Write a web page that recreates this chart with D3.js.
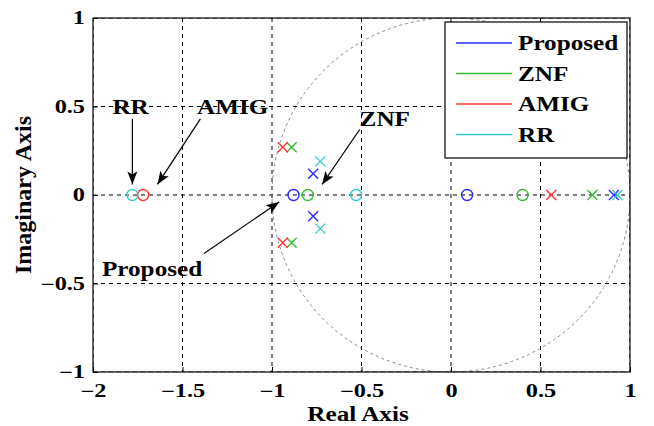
<!DOCTYPE html>
<html>
<head>
<meta charset="utf-8">
<script src="https://cdn.jsdelivr.net/npm/d3@7"></script>
<style>
  body { margin: 0; background: #fff; }
  text { font-family: "Liberation Serif", "Times New Roman", serif; font-weight: bold; }
</style>
</head>
<body>
<div id="chart"></div>
<script>
// ── Data ────────────────────────────────────────────────────────────────────
const seriesNames  = ["Proposed", "ZNF", "AMIG", "RR"];
const seriesColors = ["#2b2bff", "#33bb33", "#ff3333", "#33cccc"];

// zeros (o) per series: [re, im]
const zerosProposed = [[-0.88, 0], [0.09, 0]];
const zerosZNF      = [[-0.80, 0], [0.40, 0]];
const zerosAMIG     = [[-1.72, 0]];
const zerosRR       = [[-1.78, 0], [-0.53, 0]];

// poles (x) per series
const polesProposed = [[-0.77, 0.12], [-0.77, -0.12], [0.91, 0]];
const polesZNF      = [[-0.89, 0.27], [-0.89, -0.27], [0.79, 0]];
const polesAMIG     = [[-0.94, 0.27], [-0.94, -0.27], [0.56, 0]];
const polesRR       = [[-0.73, 0.19], [-0.73, -0.19], [0.93, 0]];

const xTicks = [-2, -1.5, -1, -0.5, 0, 0.5, 1];
const yTicks = [-1, -0.5, 0, 0.5, 1];

// annotations: label position and arrow (from -> to), in data units
const annotations = [
  { text: "RR",       tx: -1.79, ty: 0.50, from: [-1.78, 0.43], to: [-1.78, 0.06] },
  { text: "AMIG",     tx: -1.22, ty: 0.50, from: [-1.40, 0.43], to: [-1.64, 0.06] },
  { text: "ZNF",      tx: -0.37, ty: 0.43, from: [-0.51, 0.37], to: [-0.72, 0.06] },
  { text: "Proposed", tx: -1.67, ty: -0.42, from: [-1.38, -0.33], to: [-0.96, -0.04] }
];

// ── Layout ──────────────────────────────────────────────────────────────────
const W = 654, H = 426;
const plot = { left: 93, right: 630, top: 18, bottom: 372 };
const stretch = 1.2;     // the reference text is wider than the stock font
const tickStretch = 1.35;

const x = d3.scaleLinear().domain([-2, 1]).range([plot.left, plot.right]);
const y = d3.scaleLinear().domain([-1, 1]).range([plot.bottom, plot.top]);

const svg = d3.select("#chart").append("svg").attr("width", W).attr("height", H);

// wide text: placed with a transform so it can be stretched horizontally
function wideText(parent, tx, ty, str, size, anchor) {
  return parent.append("text")
    .attr("transform", `translate(${tx},${ty}) scale(${stretch},1)`)
    .attr("text-anchor", anchor || "middle")
    .attr("font-size", size)
    .text(str);
}

const defs = svg.append("defs");
defs.append("clipPath").attr("id", "clip")
  .append("rect")
  .attr("x", plot.left).attr("y", plot.top)
  .attr("width", plot.right - plot.left).attr("height", plot.bottom - plot.top);
defs.append("marker")
  .attr("id", "arrow")
  .attr("viewBox", "0 -5 13 10")
  .attr("refX", 13).attr("refY", 0)
  .attr("markerWidth", 13).attr("markerHeight", 10)
  .attr("markerUnits", "userSpaceOnUse")
  .attr("orient", "auto")
  .append("path")
  .attr("d", "M0,-5L13,0L0,5L3,0Z")
  .attr("fill", "#000");

// ── Grid ────────────────────────────────────────────────────────────────────
const grid = svg.append("g").attr("clip-path", "url(#clip)");
grid.selectAll("line.gx").data(xTicks).join("line")
  .attr("x1", d => x(d)).attr("x2", d => x(d))
  .attr("y1", plot.top).attr("y2", plot.bottom)
  .attr("stroke", "#000").attr("stroke-width", 1).attr("stroke-dasharray", "4 4");
grid.selectAll("line.gy").data(yTicks).join("line")
  .attr("x1", plot.left).attr("x2", plot.right)
  .attr("y1", d => y(d)).attr("y2", d => y(d))
  .attr("stroke", "#000").attr("stroke-width", 1).attr("stroke-dasharray", "4 4");

// unit circle
grid.append("ellipse")
  .attr("cx", x(0)).attr("cy", y(0))
  .attr("rx", x(1) - x(0)).attr("ry", y(0) - y(1))
  .attr("fill", "none").attr("stroke", "#888").attr("stroke-width", 1)
  .attr("stroke-dasharray", "3 3");

// ── Frame & axes ────────────────────────────────────────────────────────────
svg.append("rect")
  .attr("x", plot.left).attr("y", plot.top)
  .attr("width", plot.right - plot.left).attr("height", plot.bottom - plot.top)
  .attr("fill", "none").attr("stroke", "#000").attr("stroke-width", 1.2);

svg.append("g").attr("transform", `translate(0,${plot.bottom})`)
  .call(d3.axisBottom(x).tickValues(xTicks).tickSize(-5).tickPadding(12).tickFormat(d3.format("")))
  .call(g => g.select(".domain").remove())
  .call(g => g.selectAll("text").attr("font-size", 18).attr("fill", "#000")
    .attr("font-family", "Liberation Serif").attr("font-weight", "bold")
    .attr("transform", `scale(${tickStretch},1)`));

svg.append("g").attr("transform", `translate(${plot.left},0)`)
  .call(d3.axisLeft(y).tickValues(yTicks).tickSize(-5).tickPadding(10).tickFormat(d3.format("")))
  .call(g => g.select(".domain").remove())
  .call(g => g.selectAll("text").attr("font-size", 18).attr("fill", "#000")
    .attr("font-family", "Liberation Serif").attr("font-weight", "bold")
    .attr("x", -8 / tickStretch)
    .attr("transform", `scale(${tickStretch},1)`));

wideText(svg, 358, 421, "Real Axis", 21);

svg.append("text")
  .attr("transform", `translate(31,${y(0)}) rotate(-90)`)
  .attr("text-anchor", "middle").attr("font-size", 24)
  .text("Imaginary Axis");

// ── Markers ─────────────────────────────────────────────────────────────────
const allZeros = [zerosProposed, zerosZNF, zerosAMIG, zerosRR];
const allPoles = [polesProposed, polesZNF, polesAMIG, polesRR];
const marks = svg.append("g");

allZeros.forEach((pts, i) => {
  marks.selectAll(null).data(pts).join("circle")
    .attr("cx", d => x(d[0])).attr("cy", d => y(d[1])).attr("r", 5.5)
    .attr("fill", "none").attr("stroke", seriesColors[i]).attr("stroke-width", 1.4);
});

const s = 5;
allPoles.forEach((pts, i) => {
  marks.selectAll(null).data(pts).join("path")
    .attr("d", d => {
      const cx = x(d[0]), cy = y(d[1]);
      return `M${cx - s},${cy - s}L${cx + s},${cy + s}M${cx - s},${cy + s}L${cx + s},${cy - s}`;
    })
    .attr("fill", "none").attr("stroke", seriesColors[i]).attr("stroke-width", 1.4);
});

// ── Annotations ─────────────────────────────────────────────────────────────
const ann = svg.append("g");
ann.selectAll("line").data(annotations).join("line")
  .attr("x1", d => x(d.from[0])).attr("y1", d => y(d.from[1]))
  .attr("x2", d => x(d.to[0])).attr("y2", d => y(d.to[1]))
  .attr("stroke", "#000").attr("stroke-width", 1.2)
  .attr("marker-end", "url(#arrow)");
annotations.forEach(a => {
  wideText(ann, x(a.tx), y(a.ty) + 7, a.text, 21);
});

// ── Legend ──────────────────────────────────────────────────────────────────
const legend = svg.append("g").attr("transform", "translate(445,22)");
legend.append("rect")
  .attr("width", 182).attr("height", 136)
  .attr("fill", "#fff").attr("stroke", "#000").attr("stroke-width", 1.2);
seriesNames.forEach((name, i) => {
  const ry = 21 + i * 30.5;
  legend.append("line")
    .attr("x1", 11).attr("x2", 67).attr("y1", ry).attr("y2", ry)
    .attr("stroke", seriesColors[i]).attr("stroke-width", 1.4);
  wideText(legend, 73, ry + 7, name, 21, "start");
});
</script>
</body>
</html>
